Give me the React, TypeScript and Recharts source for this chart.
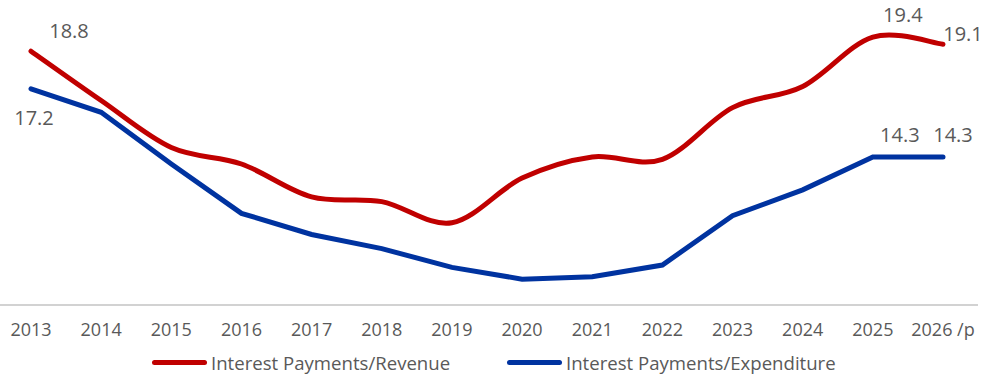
import { LineChart, Line, XAxis, YAxis, LabelList } from "recharts";

const years = ["2013", "2014", "2015", "2016", "2017", "2018", "2019", "2020", "2021", "2022", "2023", "2024", "2025", "2026 /p"];
const revenueShare = [18.8, 16.7, 14.7, 14.0, 12.6, 12.4, 11.5, 13.4, 14.3, 14.2, 16.4, 17.3, 19.4, 19.1];
const expenditureShare = [17.2, 16.2, 14.0, 11.9, 11.0, 10.4, 9.6, 9.1, 9.2, 9.7, 11.8, 12.9, 14.3, 14.3];

// which points carry a value label, and where the label sits relative to the point
const revenueLabels: Record<number, [number, number]> = { 0: [38, -21], 12: [30, -23], 13: [20, -11] };
const expenditureLabels: Record<number, [number, number]> = { 0: [3, 29], 12: [27, -22], 13: [10, -22] };

const RED = "#C00000";
const BLUE = "#0033A0";
const TEXT = "#595959";
const FONT = "'Open Sans', sans-serif";

const chartData = years.map((year, i) => ({
  year,
  revenue: revenueShare[i],
  expenditure: expenditureShare[i],
}));

// Excel-like smoothed line (Catmull-Rom through every point)
// eslint-disable-next-line @typescript-eslint/no-explicit-any
function smoothCurve(context: any) {
  let pts: [number, number][] = [];
  return {
    areaStart() {},
    areaEnd() {},
    lineStart() {
      pts = [];
    },
    point(x: number, y: number) {
      pts.push([+x, +y]);
    },
    lineEnd() {
      const n = pts.length;
      if (!n) return;
      context.moveTo(pts[0][0], pts[0][1]);
      const k = 1 / 6;
      for (let i = 0; i < n - 1; i++) {
        const p0 = pts[Math.max(0, i - 1)];
        const p1 = pts[i];
        const p2 = pts[i + 1];
        const p3 = pts[Math.min(n - 1, i + 2)];
        context.bezierCurveTo(
          p1[0] + (p2[0] - p0[0]) * k,
          p1[1] + (p2[1] - p0[1]) * k,
          p2[0] - (p3[0] - p1[0]) * k,
          p2[1] - (p3[1] - p1[1]) * k,
          p2[0],
          p2[1]
        );
      }
    },
  };
}

function makeLabel(offsets: Record<number, [number, number]>) {
  // eslint-disable-next-line @typescript-eslint/no-explicit-any
  return (props: any) => {
    const { x, y, value, index } = props;
    const off = offsets[index];
    if (!off) return null;
    return (
      <text
        x={x + off[0]}
        y={y + off[1]}
        textAnchor="middle"
        dominantBaseline="central"
        fill={TEXT}
        fontSize={20}
        fontFamily={FONT}
      >
        {Number(value).toFixed(1)}
      </text>
    );
  };
}

function LegendItem({ color, label }: { color: string; label: string }) {
  return (
    <div style={{ display: "flex", alignItems: "center" }}>
      <span
        style={{
          display: "inline-block",
          width: 55,
          height: 5,
          borderRadius: 3,
          backgroundColor: color,
          marginRight: 4,
        }}
      />
      <span style={{ fontSize: 18.6, color: TEXT, fontFamily: FONT }}>{label}</span>
    </div>
  );
}

export default function App() {
  return (
    <div style={{ position: "absolute", left: 0, top: 0, width: 983, height: 375, background: "#fff" }}>
      <LineChart width={983} height={375} data={chartData} margin={{ top: 23, right: 5, bottom: 0, left: 0 }}>
        <XAxis
          dataKey="year"
          height={70}
          padding={{ left: 31, right: 35 }}
          tickLine={false}
          tickSize={0}
          tickMargin={18}
          axisLine={{ stroke: "#a6a6a6", strokeWidth: 1.2 }}
          tick={{ fill: TEXT, fontSize: 18, fontFamily: FONT }}
          interval={0}
        />
        <YAxis hide domain={[8, 20]} />
        <Line
          dataKey="revenue"
          name="Interest Payments/Revenue"
          type={smoothCurve}
          stroke={RED}
          strokeWidth={5}
          strokeLinecap="round"
          dot={false}
          activeDot={false}
          isAnimationActive={false}
        >
          <LabelList dataKey="revenue" content={makeLabel(revenueLabels)} />
        </Line>
        <Line
          dataKey="expenditure"
          name="Interest Payments/Expenditure"
          type="linear"
          stroke={BLUE}
          strokeWidth={5}
          strokeLinecap="round"
          dot={false}
          activeDot={false}
          isAnimationActive={false}
        >
          <LabelList dataKey="expenditure" content={makeLabel(expenditureLabels)} />
        </Line>
      </LineChart>
      <div style={{ position: "absolute", top: 350, left: 152, display: "flex", gap: 0 }}>
        <div style={{ width: 355 }}>
          <LegendItem color={RED} label="Interest Payments/Revenue" />
        </div>
        <LegendItem color={BLUE} label="Interest Payments/Expenditure" />
      </div>
    </div>
  );
}
